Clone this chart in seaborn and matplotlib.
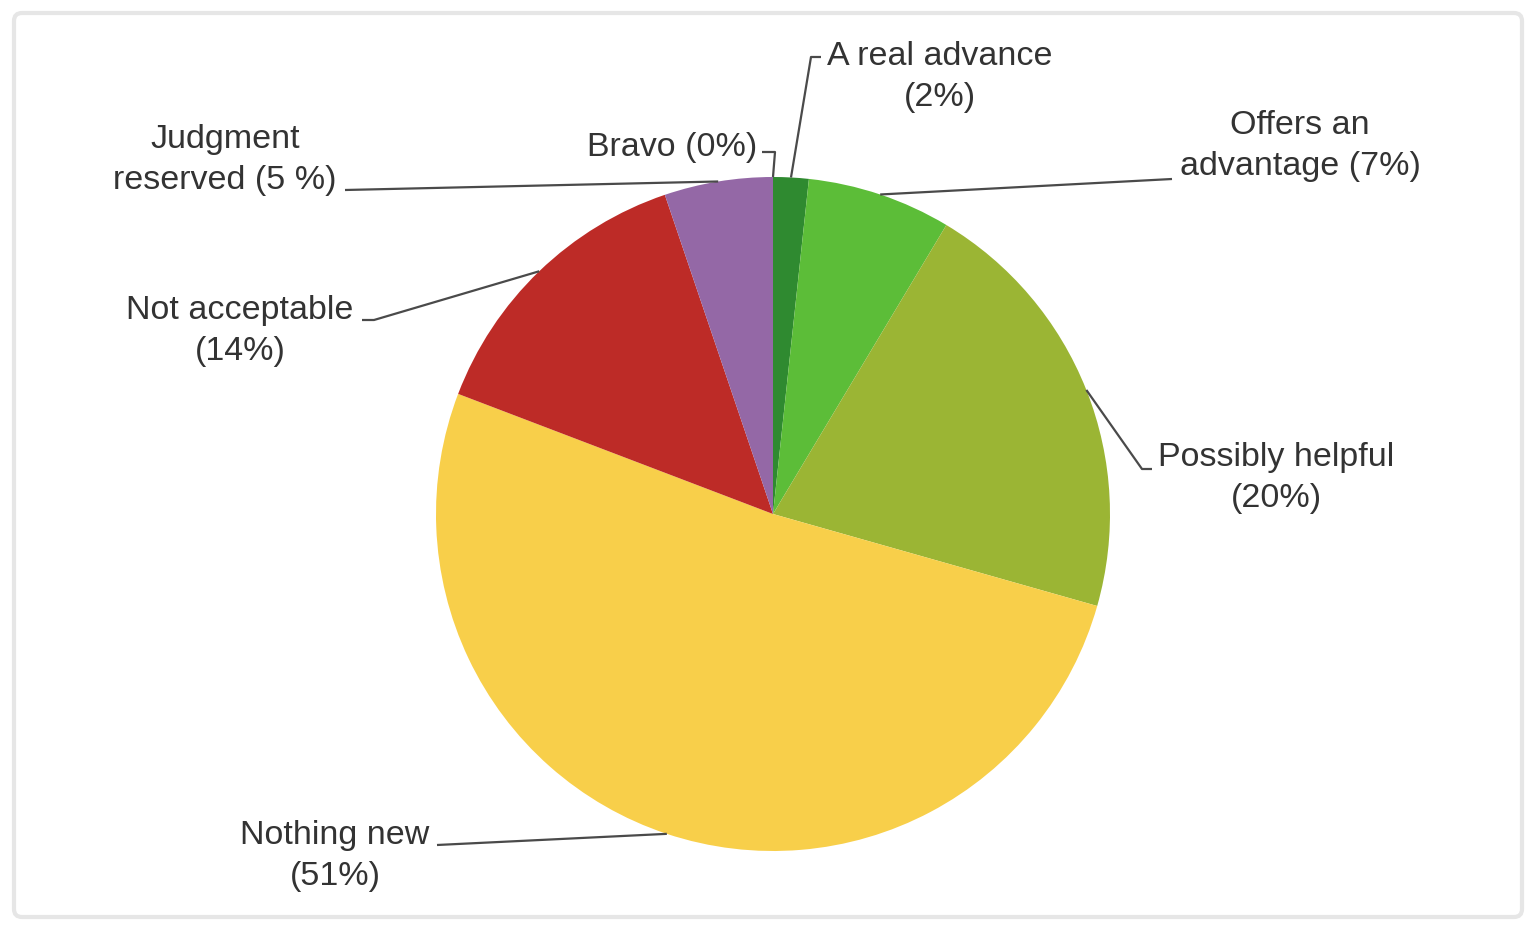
import numpy as np
import matplotlib
matplotlib.use("Agg")
import matplotlib.pyplot as plt
import seaborn as sns
from matplotlib.patches import FancyBboxPatch

# Data (percent of answers)
categories = ["Bravo", "A real advance", "Offers an advantage", "Possibly helpful",
              "Nothing new", "Not acceptable", "Judgment reserved"]
values = [0.0, 1.7, 6.9, 20.8, 51.4, 14.0, 5.2]
labels = ["Bravo (0%)", "A real advance\n(2%)", "Offers an\nadvantage (7%)",
          "Possibly helpful\n(20%)", "Nothing new\n(51%)", "Not acceptable\n(14%)",
          "Judgment\nreserved (5 %)"]
colors = ["#9a9a9a", "#2f8a30", "#5cbd38", "#9bb534", "#f8cf4a", "#bd2b27", "#9468a6"]

sns.set_theme(style="white")
plt.rcParams["font.family"] = ["Liberation Sans", "DejaVu Sans"]

W, H = 1534, 929
fig = plt.figure(figsize=(W / 100, H / 100), dpi=100)
ax = fig.add_axes([0, 0, 1, 1])


def py(y):
    # convert a top-down pixel row into the y-up data axis
    return H - y


# light frame around the chart
frame = FancyBboxPatch((14, py(918)), 1508, 904, boxstyle="round,pad=0,rounding_size=8",
                       transform=ax.transData, facecolor="white", edgecolor="#e6e6e6", lw=3)
ax.add_patch(frame)

cx, cy, r = 773, py(515), 337
wedges, _ = ax.pie(values, colors=colors, startangle=90, counterclock=False,
                   center=(cx, cy), radius=r, wedgeprops=dict(linewidth=0),
                   frame=True)
ax.set_xlim(0, W)
ax.set_ylim(0, H)
ax.set_aspect("equal")
ax.axis("off")


def anchor(w):
    a = np.deg2rad((w.theta1 + w.theta2) / 2)
    return cx + r * np.cos(a), cy + r * np.sin(a)


# label text positions (x, top-down y) and leader bends
text_pos = [(757, 147), (940, 77), (1300, 146), (1276, 478), (335, 856), (240, 331), (225, 160)]
text_ha = ["right", "center", "center", "center", "center", "center", "center"]
leader_ends = [
    [(762, 153), (775, 153)],
    [(821, 58), (811, 58)],
    [(1172, 180)],
    [(1152, 470), (1142, 470)],
    [(437, 846)],
    [(362, 321), (374, 321)],
    [(345, 191)],
]

line_col = "#4a4a4a"
for w, lab, (tx, ty), ha, pts in zip(wedges, labels, text_pos, text_ha, leader_ends):
    ax.text(tx, py(ty), lab, ha=ha, va="center", multialignment="center",
            fontsize=24.5, color="#333333", linespacing=1.45)
    ax_, ay_ = anchor(w)
    xs = [p[0] for p in pts] + [ax_]
    ys = [py(p[1]) for p in pts] + [ay_]
    ax.plot(xs, ys, color=line_col, lw=1.6, solid_capstyle="butt")

fig.savefig("out.png", dpi=100)
